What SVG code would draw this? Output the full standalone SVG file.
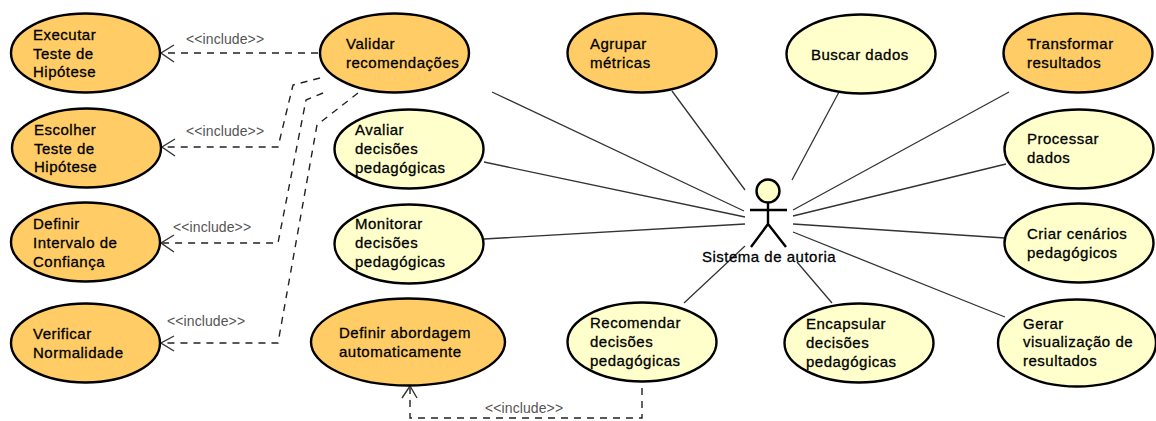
<svg xmlns="http://www.w3.org/2000/svg" width="1156" height="421" viewBox="0 0 1156 421">
<style>
text{font-family:"Liberation Sans",Arial,sans-serif}
.u{stroke:#000;stroke-width:2.4}
.o{fill:#ffcc66}
.y{fill:#ffffcc}
.t{font-size:15px;fill:#000;stroke:#000;stroke-width:.3;letter-spacing:.5px}
.i{font-size:14px;fill:#555;letter-spacing:.1px}
.a{fill:none;stroke:#333;stroke-width:1.4}
.d{fill:none;stroke:#222;stroke-width:1.4;stroke-dasharray:7 6}
.l{fill:none;stroke:#333;stroke-width:1.3}
</style>
<g id="connectors">
<path class="l" d="M492 92L744 211M672 91L745 190M839 92L792 180M1009 92L793 210M484 162L745 217M1006 164L793 216M484 239L745 224M1005 238L793 224M684 303L745 246M832 303L797 262M1005 317L793 232"/>
<path class="d" d="M318 53H162"/><path class="a" d="M174 45L161 53L174 62"/>
<path class="d" d="M320 78L293 85L278 147H162"/><path class="a" d="M175 139L162 147L175 156"/>
<path class="d" d="M323 93L306 100L278 243H162"/><path class="a" d="M174 235L161 243L174 252"/>
<path class="d" d="M358 93L317 125L278 343H162"/><path class="a" d="M174 336L161 343L174 351"/>
<path class="d" d="M642 388V418H410V388"/><path class="a" d="M402 398L410 386L417 398"/>
<text class="i" x="186" y="44">&lt;&lt;include&gt;&gt;</text>
<text class="i" x="186" y="136">&lt;&lt;include&gt;&gt;</text>
<text class="i" x="173" y="232">&lt;&lt;include&gt;&gt;</text>
<text class="i" x="167" y="326">&lt;&lt;include&gt;&gt;</text>
<text class="i" x="485" y="413">&lt;&lt;include&gt;&gt;</text>
</g>
<g id="n1"><ellipse class="u o" cx="85.500" cy="53" rx="74.500" ry="39.500"/><text class="t" x="33" y="40">Executar</text><text class="t" x="33" y="59">Teste de</text><text class="t" x="33" y="77">Hipótese</text></g>
<g id="n2"><ellipse class="u o" cx="86.500" cy="148" rx="74.500" ry="39.500"/><text class="t" x="34" y="135">Escolher</text><text class="t" x="34" y="154">Teste de</text><text class="t" x="34" y="172">Hipótese</text></g>
<g id="n3"><ellipse class="u o" cx="85.500" cy="242" rx="74.500" ry="39.500"/><text class="t" x="33" y="229">Definir</text><text class="t" x="33" y="248">Intervalo de</text><text class="t" x="33" y="267">Confiança</text></g>
<g id="n4"><ellipse class="u o" cx="85.500" cy="343" rx="74.500" ry="39.500"/><text class="t" x="33" y="339">Verificar</text><text class="t" x="33" y="358">Normalidade</text></g>
<g id="n5"><ellipse class="u o" cx="394.500" cy="53" rx="74.500" ry="39.500"/><text class="t" x="346" y="49">Validar</text><text class="t" x="346" y="68">recomendações</text></g>
<g id="n6"><ellipse class="u y" cx="409" cy="149" rx="74.500" ry="39.500"/><text class="t" x="355" y="135">Avaliar</text><text class="t" x="355" y="154">decisões</text><text class="t" x="355" y="173">pedagógicas</text></g>
<g id="n7"><ellipse class="u y" cx="409" cy="244" rx="74.500" ry="39.500"/><text class="t" x="355" y="229">Monitorar</text><text class="t" x="355" y="248">decisões</text><text class="t" x="355" y="267">pedagógicas</text></g>
<g id="n8"><ellipse class="u o" cx="408" cy="342" rx="97" ry="43.500"/><text class="t" x="339" y="338">Definir abordagem</text><text class="t" x="339" y="357">automaticamente</text></g>
<g id="n9"><ellipse class="u o" cx="642" cy="53" rx="74.500" ry="39.500"/><text class="t" x="590" y="49">Agrupar</text><text class="t" x="590" y="68">métricas</text></g>
<g id="n10"><ellipse class="u y" cx="861" cy="54" rx="74.500" ry="39.500"/><text class="t" x="811" y="60">Buscar dados</text></g>
<g id="n11"><ellipse class="u o" cx="1078" cy="53" rx="74.500" ry="39.500"/><text class="t" x="1027" y="49">Transformar</text><text class="t" x="1027" y="68">resultados</text></g>
<g id="n12"><ellipse class="u y" cx="1079" cy="149" rx="74.500" ry="39.500"/><text class="t" x="1027" y="144">Processar</text><text class="t" x="1027" y="163">dados</text></g>
<g id="n13"><ellipse class="u y" cx="1079" cy="243" rx="74.500" ry="39.500"/><text class="t" x="1027" y="239">Criar cenários</text><text class="t" x="1027" y="258">pedagógicos</text></g>
<g id="n14"><ellipse class="u y" cx="1077" cy="343" rx="79" ry="43.500"/><text class="t" x="1023" y="329">Gerar</text><text class="t" x="1023" y="347">visualização de</text><text class="t" x="1023" y="366">resultados</text></g>
<g id="n15"><ellipse class="u y" cx="642" cy="342" rx="74.500" ry="39.500"/><text class="t" x="590" y="328">Recomendar</text><text class="t" x="590" y="347">decisões</text><text class="t" x="590" y="366">pedagógicas</text></g>
<g id="n16"><ellipse class="u y" cx="859" cy="343" rx="74.500" ry="39.500"/><text class="t" x="806" y="329">Encapsular</text><text class="t" x="806" y="348">decisões</text><text class="t" x="806" y="367">pedagógicas</text></g>
<g id="actor"><circle class="u y" cx="768" cy="191" r="11.500"/><path class="u" fill="none" d="M768 202V224M750 210H787M751 247L768 224L786 247"/><text class="t" x="702" y="262">Sistema de autoria</text></g>
</svg>
